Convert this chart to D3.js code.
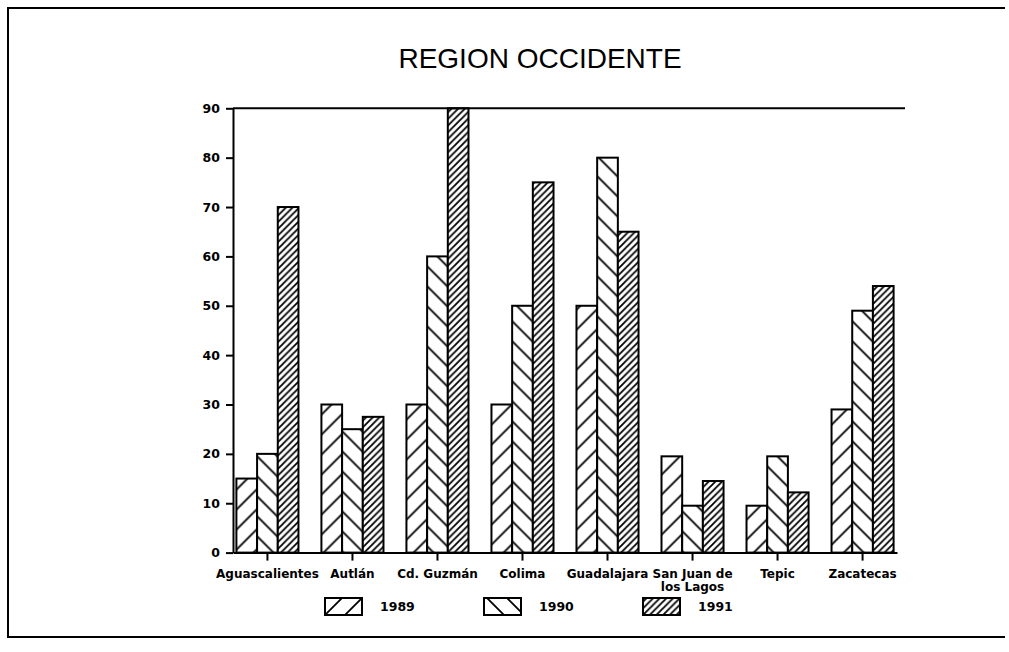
<!DOCTYPE html>
<html>
<head>
<meta charset="utf-8">
<script src="https://cdn.jsdelivr.net/npm/d3@7"></script>
<style>
  body { margin: 0; background: #fff; }
  svg { display: block; }
</style>
</head>
<body>
<svg id="chart" width="1009" height="652"></svg>
<script>
// values
const categories = ['Aguascalientes', 'Autlán', 'Cd. Guzmán', 'Colima', 'Guadalajara', 'San Juan de los Lagos', 'Tepic', 'Zacatecas'];
const years = ['1989', '1990', '1991'];
const v1989 = [15, 30, 30, 30, 50, 19.5, 9.5, 29];
const v1990 = [20, 25, 60, 50, 80, 9.5, 19.5, 49];
const v1991 = [70, 27.5, 90, 75, 65, 14.5, 12.2, 54];
const yTicks = [0, 10, 20, 30, 40, 50, 60, 70, 80, 90];

const series = [v1989, v1990, v1991];
const FONT = "'DejaVu Sans', sans-serif";

const svg = d3.select('#chart');
const defs = svg.append('defs');

/*********** frame *******************/
svg.append('path')
  .attr('d', 'M1005,8 H8 V637 H1005')
  .attr('fill', 'none')
  .attr('stroke', '#000')
  .attr('stroke-width', 2);

/*********** title *******************/
svg.append('text')
  .attr('x', 540)
  .attr('y', 68)
  .attr('text-anchor', 'middle')
  .style('font-family', "'Liberation Sans', Arial, sans-serif")
  .style('font-size', '28px')
  .text('REGION OCCIDENTE');

/*********** scales *******************/
const x = d3.scaleBand()
  .domain(categories)
  .range([233, 897])
  .paddingInner(0.27)
  .paddingOuter(0.04);

const x1 = d3.scaleBand()
  .domain(years)
  .range([0, x.bandwidth()]);

const y = d3.scaleLinear()
  .domain([0, 90])
  .range([552.6, 108.3]);

// hatch pattern anchored at (ox, oy) in user space
// kind: 'fwd' = "/" , 'back' = "\"
function hatch(id, kind, period, ox, oy) {
  const p = period;
  const d = kind === 'fwd'
    ? `M0,${p} L${p},0 M-1,1 L1,-1 M${p - 1},${p + 1} L${p + 1},${p - 1}`
    : `M0,0 L${p},${p} M-1,${p - 1} L1,${p + 1} M${p - 1},-1 L${p + 1},1`;
  const pat = defs.append('pattern')
    .attr('id', id)
    .attr('patternUnits', 'userSpaceOnUse')
    .attr('x', ox)
    .attr('y', oy)
    .attr('width', p)
    .attr('height', p);
  pat.append('rect').attr('width', p).attr('height', p).attr('fill', '#fff');
  pat.append('path')
    .attr('d', d)
    .attr('stroke', '#000')
    .attr('stroke-width', 1.8)
    .attr('fill', 'none');
  return `url(#${id})`;
}

const styles = [
  { kind: 'fwd', period: 20, anchor: 'right' },
  { kind: 'back', period: 20, anchor: 'left' },
  { kind: 'fwd', period: 20 / 3, anchor: 'left' }
];

/*********** bars *******************/
const groups = svg.append('g')
  .selectAll('g')
  .data(categories)
  .join('g')
  .attr('transform', d => `translate(${x(d)},0)`);

groups.selectAll('rect')
  .data((c, i) => years.map((yr, j) => ({ cat: c, ci: i, yr, j, v: series[j][i] })))
  .join('rect')
  .attr('x', d => x1(d.yr))
  .attr('y', d => y(d.v))
  .attr('width', x1.bandwidth())
  .attr('height', d => y(0) - y(d.v))
  .attr('stroke', '#000')
  .attr('stroke-width', 2)
  .attr('fill', d => {
    const s = styles[d.j];
    const left = x(d.cat) + x1(d.yr);
    const ox = s.anchor === 'right' ? left + x1.bandwidth() : left;
    return hatch(`h-${d.ci}-${d.j}`, s.kind, s.period, ox, y(0));
  });

/*********** axes *******************/
const yAxis = svg.append('g')
  .attr('transform', `translate(${x.range()[0]},0)`)
  .call(d3.axisLeft(y).tickValues(yTicks).tickSize(7).tickSizeOuter(0).tickPadding(6));

const xAxis = svg.append('g')
  .attr('transform', `translate(0,${y(0)})`)
  .call(d3.axisBottom(x).tickSize(8).tickSizeOuter(0).tickPadding(9));

[yAxis, xAxis].forEach(g => {
  g.selectAll('path, line').attr('stroke', '#000').attr('stroke-width', 2);
  g.selectAll('text')
    .attr('fill', '#000')
    .style('font-family', FONT)
    .style('font-weight', 'bold')
    .style('font-size', '12.5px');
});
xAxis.selectAll('text').style('font-size', '12px');

// the longest category name would run into its neighbours: put it on two lines
xAxis.selectAll('.tick text').each(function (d) {
  const t = d3.select(this);
  if (this.getComputedTextLength() <= x.step()) return;
  const words = d.split(' ');
  const half = Math.ceil(words.length / 2);
  t.text(null);
  t.append('tspan').attr('x', 0).text(words.slice(0, half).join(' '));
  t.append('tspan').attr('x', 0).attr('dy', '1.05em').text(words.slice(half).join(' '));
});

// top border of the plot
svg.append('line')
  .attr('x1', x.range()[0])
  .attr('x2', 905)
  .attr('y1', y(90))
  .attr('y2', y(90))
  .attr('stroke', '#000')
  .attr('stroke-width', 2);

/*********** legend *******************/
const legendX = [325, 484, 643];
const legend = svg.append('g');
years.forEach((yr, j) => {
  const s = styles[j];
  const lx = legendX[j], ly = 598, w = 37, h = 17;
  legend.append('rect')
    .attr('x', lx)
    .attr('y', ly)
    .attr('width', w)
    .attr('height', h)
    .attr('stroke', '#000')
    .attr('stroke-width', 2)
    .attr('fill', hatch(`leg-${j}`, s.kind, s.period, lx, ly + h));
  legend.append('text')
    .attr('x', lx + w + 18)
    .attr('y', ly + h / 2)
    .attr('dy', '0.35em')
    .style('font-family', FONT)
    .style('font-weight', 'bold')
    .style('font-size', '12.5px')
    .text(yr);
});
</script>
</body>
</html>
